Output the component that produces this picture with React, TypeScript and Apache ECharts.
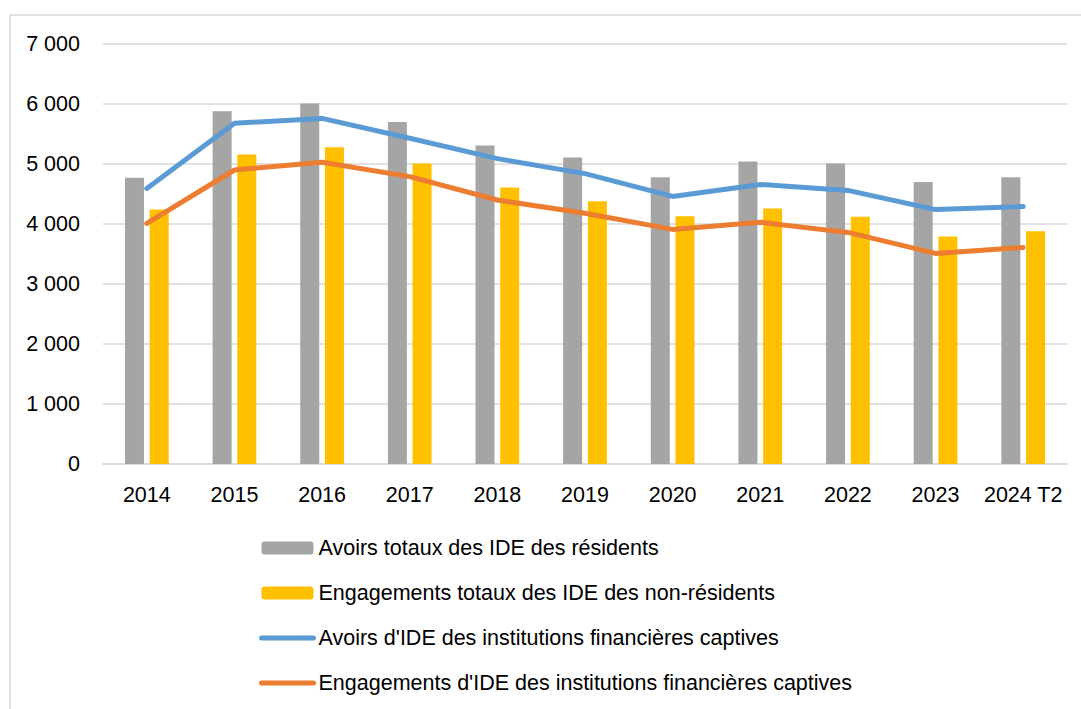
import React, { useEffect, useRef } from "react";
import * as echarts from "echarts";

const categories = ["2014", "2015", "2016", "2017", "2018", "2019", "2020", "2021", "2022", "2023", "2024 T2"];
const avoirsTotaux = [4770, 5880, 6010, 5700, 5310, 5110, 4780, 5040, 5010, 4700, 4780];
const engagementsTotaux = [4240, 5160, 5280, 5010, 4610, 4380, 4130, 4260, 4120, 3790, 3880];
const avoirsCaptives = [4590, 5680, 5760, 5430, 5090, 4840, 4460, 4660, 4560, 4240, 4290];
const engagementsCaptives = [4010, 4900, 5030, 4790, 4400, 4180, 3910, 4030, 3860, 3510, 3610];

const seriesNames = [
  "Avoirs totaux des IDE des résidents",
  "Engagements totaux des IDE des non-résidents",
  "Avoirs d'IDE des institutions financières captives",
  "Engagements d'IDE des institutions financières captives",
];

const FONT = "'Liberation Sans', Arial, sans-serif";
const FS = 21.5;

function fmt(v: number): string {
  return String(v).replace(/\B(?=(\d{3})+(?!\d))/g, " ");
}

export default function App() {
  const ref = useRef<HTMLDivElement>(null);
  useEffect(() => {
    if (!ref.current) return;
    const chart = echarts.init(ref.current, undefined, { renderer: "svg" });
    chart.setOption({
      animation: false,
      backgroundColor: "#ffffff",
      textStyle: { fontFamily: FONT },
      graphic: [
        {
          type: "rect",
          shape: { x: 10, y: 15, width: 1200, height: 800 },
          style: { fill: "none", stroke: "#D9D9D9", lineWidth: 1.5 },
          silent: true,
        },
      ],
      grid: { left: 103, right: 14, top: 44, bottom: 245, containLabel: false },
      legend: {
        orient: "vertical",
        left: 254,
        top: 531,
        itemWidth: 52,
        itemHeight: 13,
        itemGap: 21,
        textStyle: { fontSize: FS, lineHeight: 24, color: "#000", fontFamily: FONT },
        lineStyle: { width: 5, cap: "round" },
        data: [
          { name: seriesNames[0] },
          { name: seriesNames[1] },
          { name: seriesNames[2], itemStyle: { opacity: 0 } },
          { name: seriesNames[3], itemStyle: { opacity: 0 } },
        ],
      },
      xAxis: {
        type: "category",
        data: categories,
        axisLine: { lineStyle: { color: "#D9D9D9", width: 1.5 } },
        axisTick: { show: false },
        axisLabel: { fontSize: FS, color: "#000", margin: 20, interval: 0, fontFamily: FONT },
      },
      yAxis: {
        type: "value",
        min: 0,
        max: 7000,
        interval: 1000,
        axisLine: { show: false },
        axisTick: { show: false },
        splitLine: { lineStyle: { color: "#D9D9D9", width: 1.5 } },
        axisLabel: { fontSize: FS, color: "#000", margin: 23, formatter: fmt, fontFamily: FONT },
      },
      series: [
        {
          name: seriesNames[0],
          type: "bar",
          data: avoirsTotaux,
          barWidth: 19,
          barGap: "30%",
          itemStyle: { color: "#A5A5A5" },
        },
        {
          name: seriesNames[1],
          type: "bar",
          data: engagementsTotaux,
          barWidth: 19,
          barGap: "30%",
          itemStyle: { color: "#FFC000" },
        },
        {
          name: seriesNames[2],
          type: "line",
          data: avoirsCaptives,
          symbol: "none",
          z: 5,
          lineStyle: { color: "#5B9BD5", width: 5, cap: "round", join: "round" },
          itemStyle: { color: "#5B9BD5" },
        },
        {
          name: seriesNames[3],
          type: "line",
          data: engagementsCaptives,
          symbol: "none",
          z: 5,
          lineStyle: { color: "#ED7D31", width: 5, cap: "round", join: "round" },
          itemStyle: { color: "#ED7D31" },
        },
      ],
    });
    return () => chart.dispose();
  }, []);
  return (
    <div
      ref={ref}
      style={{ position: "absolute", left: 0, top: 0, width: 1081, height: 709 }}
    />
  );
}
